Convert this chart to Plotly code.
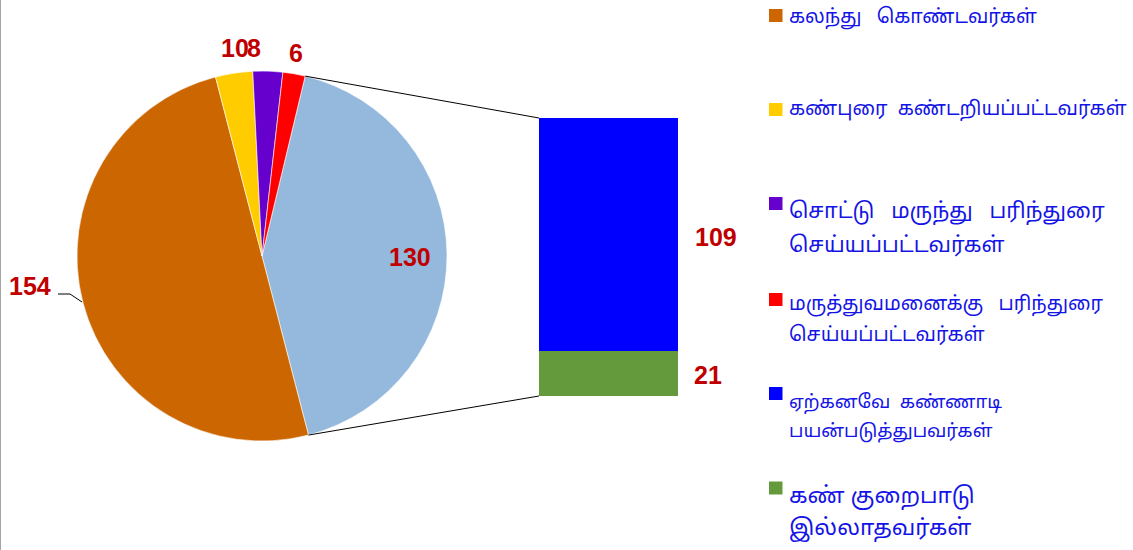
import math
import plotly.graph_objects as go

W, H = 1133, 550

# ---- data ----
pie_labels = ["மற்றவை", "கலந்து கொண்டவர்கள்", "கண்புரை கண்டறியப்பட்டவர்கள்",
              "சொட்டு மருந்து பரிந்துரை செய்யப்பட்டவர்கள்",
              "மருத்துவமனைக்கு பரிந்துரை செய்யப்பட்டவர்கள்"]
pie_values = [130, 154, 10, 8, 6]
pie_colors = ["#95B8DD", "#CC6600", "#FFCC00", "#6600CC", "#FF0000"]

bar_labels = ["கண் குறைபாடு இல்லாதவர்கள்", "ஏற்கனவே கண்ணாடி பயன்படுத்துபவர்கள்"]
bar_values = [21, 109]
bar_colors = ["#649A3C", "#0000FF"]

NB = "\u00a0"
legend_lines = [
    ["கலந்து" + NB * 3 + "கொண்டவர்கள்"],
    ["கண்புரை" + NB * 2 + "கண்டறியப்பட்டவர்கள்"],
    ["சொட்டு" + NB * 3 + "மருந்து" + NB * 3 + "பரிந்துரை", "செய்யப்பட்டவர்கள்"],
    ["மருத்துவமனைக்கு" + NB * 3 + "பரிந்துரை", "செய்யப்பட்டவர்கள்"],
    ["ஏற்கனவே" + NB * 2 + "கண்ணாடி", "பயன்படுத்துபவர்கள்"],
    ["கண்" + NB + "குறைபாடு", "இல்லாதவர்கள்"],
]
legend_colors = ["#CC6600", "#FFCC00", "#6600CC", "#FF0000", "#0000FF", "#649A3C"]

# ---- layout geometry (pixels) ----
cx, cy, R = 262, 256, 185
bx0, bx1, by_top, by_bot = 539, 678, 118, 396
start_angle = 13.5

def px(x):
    return x / W

def py(y):
    return 1 - y / H

fig = go.Figure()

fig.add_trace(go.Pie(
    labels=pie_labels, values=pie_values, sort=False, direction="clockwise",
    rotation=start_angle, textinfo="none", showlegend=False,
    marker=dict(colors=pie_colors, line=dict(color="white", width=0.6)),
    domain=dict(x=[px(cx - R), px(cx + R)], y=[py(cy + R), py(cy - R)]),
    hoverinfo="label+value",
))

for lab, val, col in zip(bar_labels, bar_values, bar_colors):
    fig.add_trace(go.Bar(
        x=[0], y=[val], name=lab, marker=dict(color=col, line=dict(width=0)),
        width=1, showlegend=False, xaxis="x", yaxis="y",
    ))

# connector lines from "other" slice edges to bar corners
total = sum(pie_values)
a1 = math.radians(start_angle)
a2 = math.radians(start_angle + 360 * pie_values[0] / total)
p1 = (cx + R * math.sin(a1), cy - R * math.cos(a1))
p2 = (cx + R * math.sin(a2), cy - R * math.cos(a2))
shapes = [
    dict(type="line", xref="paper", yref="paper", x0=px(p1[0]), y0=py(p1[1]),
         x1=px(bx0), y1=py(by_top), line=dict(color="black", width=1)),
    dict(type="line", xref="paper", yref="paper", x0=px(p2[0]), y0=py(p2[1]),
         x1=px(bx0), y1=py(by_bot), line=dict(color="black", width=1)),
    # leader line for 154
    dict(type="path", xref="paper", yref="paper",
         path=f"M {px(58)} {py(294)} L {px(70)} {py(294)} L {px(82)} {py(302)}",
         line=dict(color="black", width=1)),
    # left border
    dict(type="line", xref="paper", yref="paper", x0=px(0.5), y0=0, x1=px(0.5), y1=1,
         line=dict(color="#A6A6A6", width=1)),
]

# legend squares and texts
leg_sq_y = [15.5, 109.5, 203.5, 299.5, 393.5, 488]
leg_txt_y = [[18], [110], [212, 246], [305, 335], [403, 432], [497, 529]]
leg_size = [19.5, 19.5, 21.5, 19.5, 18.5, 22.5]
annotations = []
for i, (lines, c) in enumerate(zip(legend_lines, legend_colors)):
    s = leg_sq_y[i]
    shapes.append(dict(type="rect", xref="paper", yref="paper",
                       x0=px(769), x1=px(782.5), y0=py(s + 6.5), y1=py(s - 6.5),
                       fillcolor=c, line=dict(width=0)))
    for t, ty in zip(lines, leg_txt_y[i]):
        annotations.append(dict(text=t, x=px(787), y=py(ty), xref="paper", yref="paper",
                                xanchor="left", yanchor="middle", align="left", showarrow=False,
                                font=dict(size=leg_size[i], color="#1414E6",
                                          family="Noto Sans Tamil, Lohit Tamil, Latha, sans-serif")))

# value labels
lab_font = dict(size=25, color="#C00000", family="Liberation Sans, Arial, sans-serif")
label_pos = {"130": (410, 257), "154": (30, 286), "10": (235, 48), "8": (254, 48),
             "6": (296, 53), "109": (715.5, 237), "21": (708, 375)}
label_vals = pie_values + bar_values[::-1]
for v in label_vals:
    x, y = label_pos[str(v)]
    annotations.append(dict(text=f"<b>{v}</b>", x=px(x), y=py(y), xref="paper",
                            yref="paper", xanchor="center", yanchor="middle", showarrow=False,
                            font=lab_font))

fig.update_layout(
    width=W, height=H, margin=dict(l=0, r=0, t=0, b=0),
    paper_bgcolor="white", plot_bgcolor="white",
    barmode="stack", bargap=0,
    xaxis=dict(domain=[px(bx0), px(bx1)], range=[-0.5, 0.5], visible=False, fixedrange=True),
    yaxis=dict(domain=[py(by_bot), py(by_top)], range=[0, sum(bar_values)], visible=False,
               fixedrange=True),
    shapes=shapes, annotations=annotations, showlegend=False,
)

fig.write_html("out.html", post_script="document.body.style.margin='0';",
               config={"displayModeBar": False})
